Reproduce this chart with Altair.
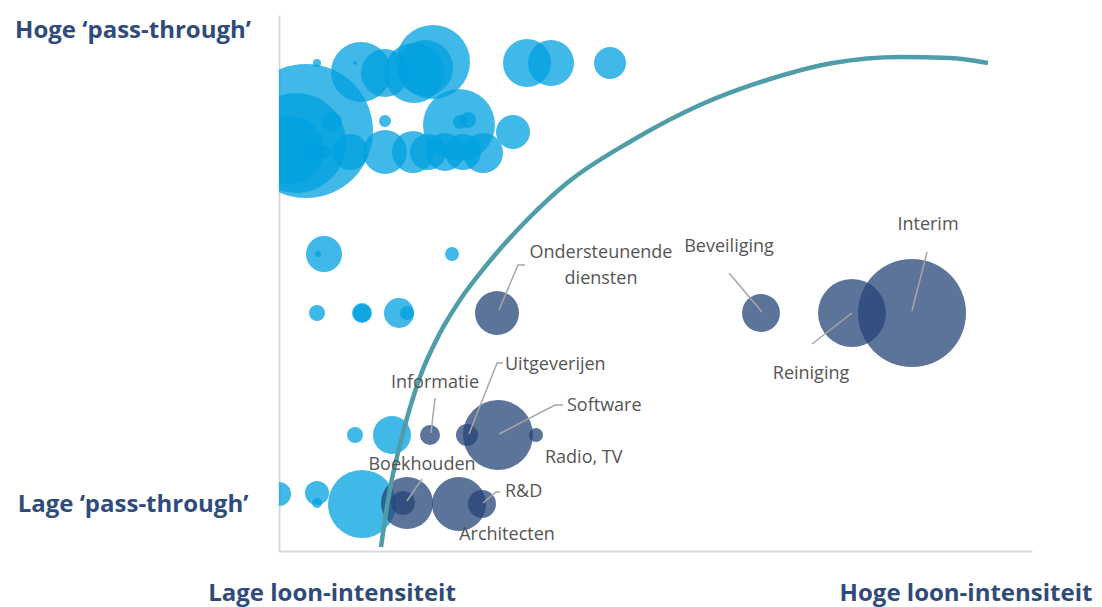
import altair as alt
import pandas as pd

# ---- data (plot units: 1 unit = 1 px; x from left axis, y from bottom axis) ----
light_x = [27, 17, 11, 53, 31, 46, 38, 76, 82, 106, 135, 154, 146, 248, 272, 331,
           180, 181, 189, 234, 106, 71, 106, 134, 149, 166, 184, 204,
           45, 39, 173, 38, 83, 83, 120, 128, 76, 113, 0, 38, 38, 83]
light_y = [420, 408, 401, 429, 399, 399, 488, 488, 479, 478, 478, 489, 483, 488, 488, 488,
           426, 429, 431, 419, 430, 399, 399, 399, 399, 399, 399, 398,
           297, 297, 297, 238, 238, 238, 238, 238, 116, 116, 57, 58, 48, 47]
light_r = [67, 50, 34, 10, 8, 6, 4, 2, 30, 24, 30, 37, 28, 24, 23, 16,
           36, 7, 8, 17, 6, 18, 22, 21, 18, 19, 18, 20,
           18, 3, 7, 8, 10, 9, 15, 7, 8, 19, 12, 12, 5, 34]

dark_name = ["Ondersteunende diensten", "Informatie", "Uitgeverijen", "Software", "Radio, TV",
             "", "Boekhouden", "Architecten", "R&D", "Beveiliging", "Reiniging", "Interim"]
dark_x = [218, 151, 188, 219, 257, 128, 124, 180, 203, 482, 573, 633]
dark_y = [238, 116, 116, 116, 116, 48, 48, 47, 47, 238, 238, 238]
dark_r = [22, 10, 11, 35, 7, 26, 12, 27, 14, 19, 34, 54]

label_text = ["Interim", "Beveiliging", "Reiniging", "Ondersteunende", "diensten",
              "Uitgeverijen", "Informatie", "Software", "Radio, TV", "Boekhouden",
              "R&D", "Architecten"]
label_x = [649, 450, 532, 322, 322, 226, 156, 288, 266, 143, 226, 228]
label_y = [326, 304, 177, 298, 272, 186, 168, 145, 93, 86, 59, 16]
label_align = ["center", "center", "center", "center", "center", "left",
               "center", "left", "left", "center", "left", "center"]

leader_id = [1, 1, 2, 2, 3, 3, 4, 4, 4, 5, 5, 5, 6, 6, 7, 7, 7, 8, 8, 9, 9, 9]
leader_x = [648, 633, 450, 483, 533, 573, 246, 239, 220, 224, 218, 190, 156, 152,
            284, 276, 220, 143, 128, 221, 217, 204]
leader_y = [299, 240, 278, 239, 207, 238, 286, 286, 241, 188, 188, 117, 153, 118,
            146, 146, 117, 72, 50, 59, 59, 48]

curve_x = [102, 109, 124, 141, 161, 181, 206, 248, 288, 354, 421, 488, 554, 621, 671, 709]
curve_y = [4, 51, 118, 174, 218, 251, 284, 331, 368, 411, 446, 471, 488, 494, 493, 488]

corner_text = ["Hoge \u2018pass-through\u2019", "Lage \u2018pass-through\u2019",
               "Lage loon-intensiteit", "Hoge loon-intensiteit"]
corner_px = [-146, -146, 53, 687]
corner_py = [16, 490, 579, 579]

W, H = 753, 536
FONT = "Open Sans"

xs = alt.Scale(domain=[0, W], nice=False, zero=False)
ys = alt.Scale(domain=[0, H], nice=False, zero=False)
xax = alt.Axis(domain=True, domainColor="#D9D9D9", domainWidth=2, ticks=False,
               labels=False, grid=False, title="")
yax = alt.Axis(domain=True, domainColor="#D9D9D9", domainWidth=2, ticks=False,
               labels=False, grid=False, title="")

light = pd.DataFrame({"x": light_x, "y": light_y, "r": light_r})
dark = pd.DataFrame({"name": dark_name, "x": dark_x, "y": dark_y, "r": dark_r})
labels = pd.DataFrame({"t": label_text, "x": label_x, "y": label_y, "a": label_align})
leaders = pd.DataFrame({"id": leader_id, "x": leader_x, "y": leader_y,
                        "o": list(range(len(leader_x)))})
curve = pd.DataFrame({"x": curve_x, "y": curve_y})

# Vega circle symbol: radius = sqrt(size) / 2  ->  size = 4 r^2
light_layer = alt.Chart(light).transform_calculate(
    s="4 * datum.r * datum.r"
).mark_circle(color="#00A0E0", opacity=0.75, clip=True).encode(
    x=alt.X("x:Q", scale=xs, axis=xax),
    y=alt.Y("y:Q", scale=ys, axis=yax),
    size=alt.Size("s:Q", scale=None, legend=None),
)

dark_layer = alt.Chart(dark).transform_calculate(
    s="4 * datum.r * datum.r"
).mark_circle(color="#264478", opacity=0.75, clip=True).encode(
    x=alt.X("x:Q", scale=xs),
    y=alt.Y("y:Q", scale=ys),
    size=alt.Size("s:Q", scale=None, legend=None),
)

curve_layer = alt.Chart(curve).mark_line(
    color="#4E9DA8", strokeWidth=4.5, interpolate="monotone"
).encode(
    x=alt.X("x:Q", scale=xs),
    y=alt.Y("y:Q", scale=ys),
)

leader_layer = alt.Chart(leaders).mark_line(color="#A6A6A6", strokeWidth=1.5).encode(
    x=alt.X("x:Q", scale=xs),
    y=alt.Y("y:Q", scale=ys),
    detail="id:N",
    order="o:Q",
)

def label_layer(align):
    return alt.Chart(labels).transform_filter(
        alt.datum.a == align
    ).mark_text(font=FONT, fontSize=18, color="#555555", align=align,
                baseline="middle").encode(
        x=alt.X("x:Q", scale=xs),
        y=alt.Y("y:Q", scale=ys),
        text="t:N",
    )

corner_layers = []
for t, px, py in zip(corner_text, corner_px, corner_py):
    corner_layers.append(
        alt.Chart(pd.DataFrame({"k": [0]})).mark_text(
            font=FONT, fontSize=24, fontWeight="bold", color="#2F4B7C",
            align="center", baseline="middle"
        ).encode(x=alt.value(px), y=alt.value(py), text=alt.value(t))
    )

chart = alt.layer(
    light_layer, dark_layer, curve_layer, leader_layer,
    label_layer("center"), label_layer("left"), *corner_layers
).properties(
    width=W, height=H,
    padding={"left": 271, "top": 7, "right": 62, "bottom": 56},
    autosize=alt.AutoSizeParams(type="none"),
).configure_view(strokeWidth=0)

chart.save("out.html", embed_options={"renderer": "svg", "actions": False})
